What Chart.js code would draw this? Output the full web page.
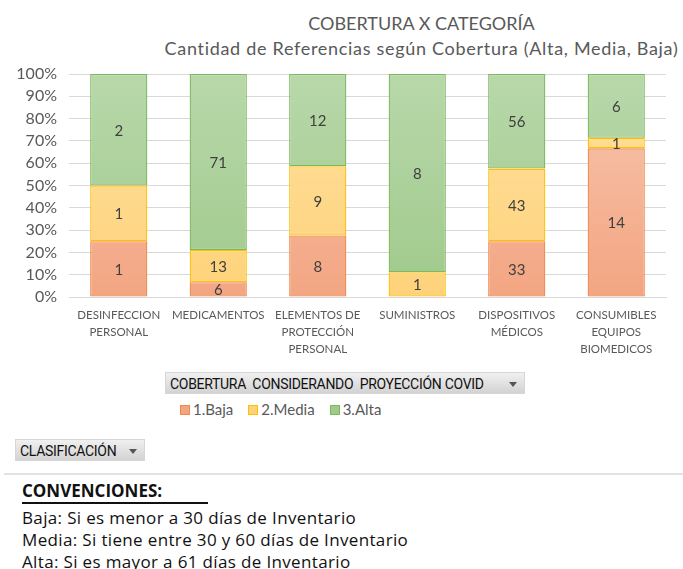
<!DOCTYPE html>
<html>
<head>
<meta charset="utf-8">
<script src="https://cdn.jsdelivr.net/npm/chart.js@4.4.1/dist/chart.umd.min.js"></script>
<style>
  html,body{margin:0;padding:0;background:#fff;}
  body{width:683px;height:569px;position:relative;overflow:hidden;font-family:Lato,"Open Sans",sans-serif;}
  #wrap{position:absolute;left:0;top:0;width:683px;height:365px;}
  .title{position:absolute;left:160px;width:523px;text-align:center;color:#595959;font-size:18px;white-space:nowrap;}
  .pbtn{position:absolute;height:22px;line-height:22px;font-family:Roboto,sans-serif;font-size:14px;color:#111;
        letter-spacing:-0.3px;background:linear-gradient(#f0f0f0,#d3d3d3);border:1px solid #d6d6d6;box-sizing:border-box;
        padding-left:4px;white-space:nowrap;}
  .pbtn:after{content:"";position:absolute;right:7px;top:9px;border-left:4px solid transparent;border-right:4px solid transparent;border-top:5px solid #555;}
  #legend{position:absolute;left:180px;top:400px;font-size:15px;color:#595959;white-space:nowrap;}
  #legend span.it{display:inline-block;margin-right:15px;}
  #legend i{display:inline-block;width:8px;height:8px;border:1px solid;margin-right:3px;vertical-align:0px;}
  #sep{position:absolute;left:4px;right:0;top:473px;height:2px;background:#e3e3e3;}
  .conv{position:absolute;left:22px;font-family:"Open Sans",sans-serif;font-size:17px;color:#111;white-space:nowrap;letter-spacing:0.35px;}
  #convh{font-weight:bold;top:479px;letter-spacing:0;}
  #convline{position:absolute;left:22px;top:502px;width:186px;height:1.5px;background:#111;}
</style>
</head>
<body>
<div class="title" style="top:12px">COBERTURA X CATEGORÍA</div>
<div class="title" style="top:37px;letter-spacing:0.7px">Cantidad de Referencias según Cobertura (Alta, Media, Baja)</div>
<div id="wrap"><canvas id="chart"></canvas></div>
<div class="pbtn" style="left:165px;top:372px;width:360px;">COBERTURA&nbsp; CONSIDERANDO&nbsp; PROYECCIÓN COVID</div>
<div id="legend"></div>
<div class="pbtn" style="left:15px;top:439px;width:130px;">CLASIFICACIÓN</div>
<div id="sep"></div>
<div class="conv" id="convh">CONVENCIONES:</div>
<div id="convline"></div>
<div class="conv" style="top:506px">Baja: Si es menor a 30 días de Inventario</div>
<div class="conv" style="top:528px">Media: Si tiene entre 30 y 60 días de Inventario</div>
<div class="conv" style="top:550px">Alta: Si es mayor a 61 días de Inventario</div>

<script>
// categorías (etiquetas del eje X, en varias líneas)
const categorias = [
  ['DESINFECCION','PERSONAL'],
  ['MEDICAMENTOS'],
  ['ELEMENTOS DE','PROTECCIÓN','PERSONAL'],
  ['SUMINISTROS'],
  ['DISPOSITIVOS','MÉDICOS'],
  ['CONSUMIBLES','EQUIPOS','BIOMEDICOS']
];
// cantidad de referencias por cobertura
const baja  = [1, 6, 8, 0, 33, 14];
const media = [1, 13, 9, 1, 43, 1];
const alta  = [2, 71, 12, 8, 56, 6];
const series = ['1.Baja','2.Media','3.Alta'];
const yTicks = [0,10,20,30,40,50,60,70,80,90,100];

const totales = baja.map((b,i)=>b+media[i]+alta[i]);
const pct = arr => arr.map((v,i)=>v/totales[i]*100);

const COLS = [
  {top:'#f7c6ae', bot:'#f3a582', border:'#f0894a'},
  {top:'#ffe0a0', bot:'#fed27a', border:'#ffc000'},
  {top:'#b8d8aa', bot:'#a0c98b', border:'#7cb95a'},
];

function grad(c){
  return ctx=>{
    const ch=ctx.chart, a=ch.chartArea;
    if(!a) return c.bot;
    const g=ch.ctx.createLinearGradient(0,a.top,0,a.bottom);
    g.addColorStop(0,c.top); g.addColorStop(1,c.bot);
    return g;
  };
}

function mkSet(label,counts,c){
  return {label,data:pct(counts),counts,backgroundColor:grad(c),borderColor:c.border,
    borderWidth:1.3,borderSkipped:false,categoryPercentage:1,barPercentage:0.575};
}

// etiquetas centradas con la cantidad
const countLabels={id:'countLabels',afterDatasetsDraw(chart){
  const {ctx}=chart;
  ctx.save();
  ctx.font='15px Lato, sans-serif'; ctx.fillStyle='#404040';
  ctx.textAlign='center'; ctx.textBaseline='middle';
  chart.data.datasets.forEach((ds,di)=>{
    chart.getDatasetMeta(di).data.forEach((bar,i)=>{
      const n=ds.counts[i]; if(!n) return;
      const {x,y,base}=bar.getProps(['x','y','base'],true);
      ctx.fillText(n,x,(y+base)/2+1);
    });
  });
  ctx.restore();
}};

const chart=new Chart(document.getElementById('chart'),{
  type:'bar',
  data:{labels:categorias,datasets:[
    mkSet(series[0],baja,COLS[0]),
    mkSet(series[1],media,COLS[1]),
    mkSet(series[2],alta,COLS[2]),
  ]},
  options:{
    responsive:true,maintainAspectRatio:false,animation:false,
    layout:{padding:{top:74,right:17,left:0,bottom:0}},
    plugins:{legend:{display:false},tooltip:{enabled:false},title:{display:false}},
    scales:{
      x:{stacked:true,grid:{display:false},border:{display:true,color:'#d9d9d9'},
        ticks:{color:'#595959',font:{family:'Lato',size:11.5,lineHeight:1.48},padding:2,maxRotation:0,autoSkip:false},
        afterFit(s){s.height=68;}},
      y:{stacked:true,min:0,max:100,
        afterBuildTicks(s){s.ticks=yTicks.map(v=>({value:v}));},
        grid:{color:'#d9d9d9',drawTicks:false},border:{display:false},
        ticks:{color:'#595959',font:{family:'Lato',size:16},padding:12,callback:v=>v+'%'},
        afterFit(s){s.width=69;}}
    }
  },
  plugins:[countLabels]
});

// leyenda HTML desde los datasets
document.getElementById('legend').innerHTML=chart.data.datasets.map((d,i)=>
  `<span class="it"><i style="background:${COLS[i].bot};border-color:${COLS[i].border}"></i>${d.label}</span>`).join('');
</script>
</body>
</html>
